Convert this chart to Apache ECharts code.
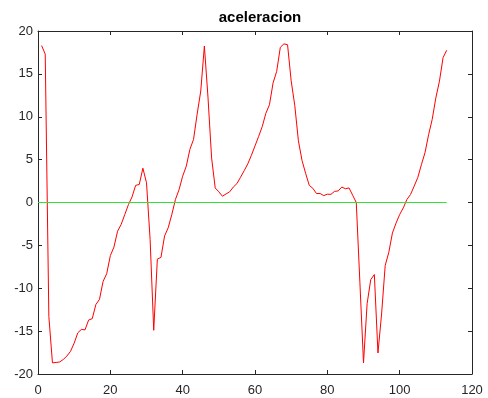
<!DOCTYPE html>
<html>
<head>
<meta charset="utf-8">
<script src="https://cdn.jsdelivr.net/npm/echarts@6/dist/echarts.min.js"></script>
<style>
html,body{margin:0;padding:0;background:#fff;}
#chart{width:488px;height:398px;}
</style>
</head>
<body>
<div id="chart"></div>
<script>
const titleText = 'aceleracion';
const xTicks = [0, 20, 40, 60, 80, 100, 120];
const yTicks = [-20, -15, -10, -5, 0, 5, 10, 15, 20];
const accel = [
  18.3, 17.3, -13.3, -18.7, -18.65, -18.6, -18.3, -17.9, -17.35, -16.4,
  -15.2, -14.8, -14.85, -13.7, -13.55, -11.9, -11.3, -9.2, -8.3, -6.2,
  -5.2, -3.35, -2.55, -1.4, -0.25, 0.65, 2.0, 2.1, 4.0, 2.3,
  -4.3, -14.9, -6.6, -6.4, -3.9, -2.95, -1.4, 0.35, 1.5, 3.07,
  4.24, 6.2, 7.35, 10.3, 13.0, 18.25, 12.3, 5.2, 1.7, 1.25,
  0.73, 1.0, 1.25, 1.8, 2.2, 2.95, 3.7, 4.5, 5.5, 6.6,
  7.7, 8.85, 10.4, 11.4, 13.95, 15.3, 18.1, 18.5, 18.4, 14.2,
  11.3, 7.2, 4.9, 3.4, 2.0, 1.65, 1.05, 1.05, 0.8, 0.97,
  0.95, 1.3, 1.35, 1.8, 1.6, 1.7, 0.85, 0, -9.3, -18.7,
  -11.8, -9.0, -8.4, -17.55, -13.0, -7.35, -5.8, -3.55, -2.4, -1.4,
  -0.63, 0.35, 0.93, 1.9, 2.9, 4.4, 5.8, 7.9, 9.7, 12.2,
  14.15, 16.9, 17.75
];
const zeroLineX = [0, 113];
const zeroLineY = [0, 0];

const accelData = accel.map((v, i) => [i + 1, v]);
const zeroData = zeroLineX.map((x, i) => [x, zeroLineY[i]]);

const axisColor = '#262626';
const labelFont = {color: '#262626', fontSize: 13, fontFamily: 'Liberation Sans, Arial, sans-serif'};

function xAxisCfg(pos, showLabel) {
  return {
    type: 'value', position: pos, min: xTicks[0], max: xTicks[xTicks.length - 1], interval: 20,
    axisLine: {show: true, onZero: false, lineStyle: {color: axisColor, width: 1}},
    axisTick: {show: true, inside: true, length: 4, lineStyle: {color: axisColor}},
    axisLabel: Object.assign({show: showLabel, margin: 10}, labelFont),
    splitLine: {show: false}
  };
}
function yAxisCfg(pos, showLabel) {
  return {
    type: 'value', position: pos, min: yTicks[0], max: yTicks[yTicks.length - 1], interval: 5,
    axisLine: {show: true, onZero: false, lineStyle: {color: axisColor, width: 1}},
    axisTick: {show: true, inside: true, length: 4, lineStyle: {color: axisColor}},
    axisLabel: Object.assign({show: showLabel, margin: 5}, labelFont),
    splitLine: {show: false}
  };
}

const chart = echarts.init(document.getElementById('chart'), null, {renderer: 'canvas'});
chart.setOption({
  animation: false,
  backgroundColor: '#ffffff',
  color: ['#ff0000', '#33e033'],
  title: {
    text: titleText, left: 255, textAlign: 'center', top: 5,
    textStyle: {fontSize: 15, fontWeight: 'bold', color: '#000', fontFamily: 'Liberation Sans, Arial, sans-serif'}
  },
  grid: {left: 38, right: 16, top: 31, bottom: 24, containLabel: false},
  xAxis: [xAxisCfg('bottom', true), xAxisCfg('top', false)],
  yAxis: [yAxisCfg('left', true), yAxisCfg('right', false)],
  series: [
    {
      name: 'accel', type: 'line', data: accelData, xAxisIndex: 0, yAxisIndex: 0,
      showSymbol: false, symbol: 'none',
      itemStyle: {color: '#ff0000'},
      lineStyle: {color: '#ff0000', width: 1}, z: 3
    },
    {
      name: 'zero', type: 'line', data: zeroData, xAxisIndex: 0, yAxisIndex: 0,
      showSymbol: false, symbol: 'none',
      itemStyle: {color: '#33e033'},
      lineStyle: {color: '#33e033', width: 1, opacity: 1}, z: 4
    }
  ]
});
</script>
</body>
</html>
